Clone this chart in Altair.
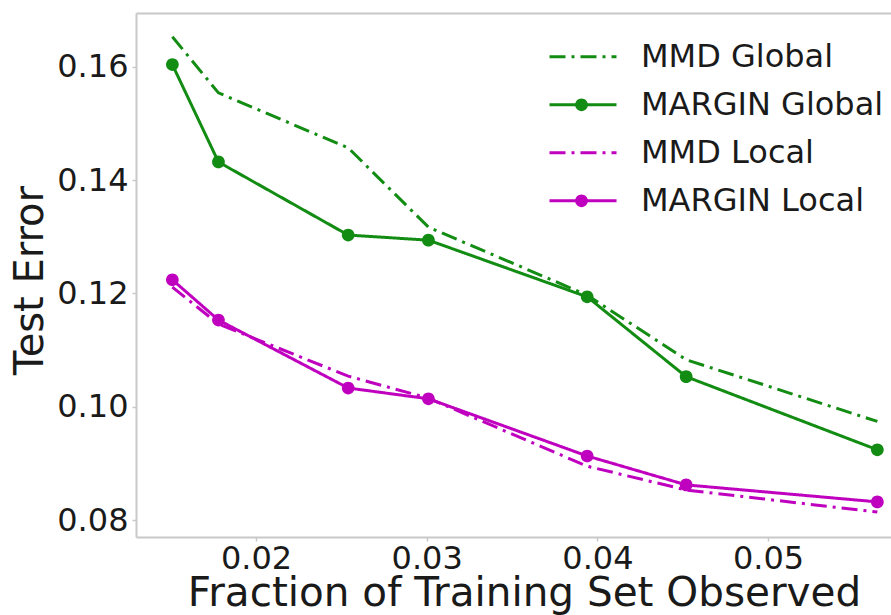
import altair as alt
import pandas as pd

# ---- data ----
fractions = [0.0151, 0.0178, 0.0254, 0.0301, 0.0394, 0.0452, 0.0564]
mmd_global = [0.1653, 0.1554, 0.1457, 0.1317, 0.1197, 0.1083, 0.0974]
margin_global = [0.1604, 0.1432, 0.1303, 0.1294, 0.1194, 0.1053, 0.0924]
mmd_local = [0.1211, 0.1146, 0.1054, 0.1015, 0.0895, 0.0853, 0.0814]
margin_local = [0.1224, 0.1153, 0.1033, 0.1014, 0.0913, 0.0862, 0.0832]

series_names = ["MMD Global", "MARGIN Global", "MMD Local", "MARGIN Local"]
series_values = [mmd_global, margin_global, mmd_local, margin_local]
x_ticks = [0.02, 0.03, 0.04, 0.05]
y_ticks = [0.08, 0.10, 0.12, 0.14, 0.16]

GREEN = "#138c13"
MAGENTA = "#bf00bf"
series_colors = [GREEN, GREEN, MAGENTA, MAGENTA]
DASHDOT = [16, 6, 3, 6]
SOLID = [1, 0]
CIRCLE = "M0.19,0A0.19,0.19,0,1,1,-0.19,0A0.19,0.19,0,1,1,0.19,0Z"
NOTHING = "M0,0"
series_dash = [DASHDOT, SOLID, DASHDOT, SOLID]
series_marker = [NOTHING, CIRCLE, NOTHING, CIRCLE]

rows = []
for k, (name, vals) in enumerate(zip(series_names, series_values)):
    for i, (fx, v) in enumerate(zip(fractions, vals)):
        rows.append({"series": name, "key": k, "fraction": fx, "error": v, "order": i})
df = pd.DataFrame(rows)

W, H = 755, 524
FONT = "DejaVu Sans"
TXT = "#1a1a1a"
FRAME = "#c8c8c8"
SYM = 4489  # legend symbol box: 67 px wide

xscale = alt.Scale(domain=[0.01297, 0.0572], nice=False, zero=False)
yscale = alt.Scale(domain=[0.0770, 0.1695], nice=False, zero=False)

x_axis = alt.Axis(
    values=x_ticks, format=".2f", title="Fraction of Training Set Observed",
    grid=False, domainColor=FRAME, domainWidth=2, tickColor=FRAME, tickSize=4,
    tickWidth=1.5, labelFont=FONT, labelFontSize=32, labelColor=TXT, labelPadding=2,
    titleFont=FONT, titleFontSize=40.5, titleFontWeight="normal", titleColor=TXT,
    titleX=388, titleY=68, titleBaseline="alphabetic", titleAlign="center",
)
x_top_axis = alt.Axis(
    orient="top", labels=False, ticks=False, title=None, grid=False,
    domainColor=FRAME, domainWidth=2,
)
y_axis = alt.Axis(
    values=y_ticks, format=".2f", title="Test Error",
    grid=False, domainColor=FRAME, domainWidth=2, tickColor=FRAME, tickSize=4,
    tickWidth=1.5, labelFont=FONT, labelFontSize=32, labelColor=TXT, labelPadding=4,
    titleFont=FONT, titleFontSize=40, titleFontWeight="normal", titleColor=TXT,
    titleX=-94, titleY=267, titleBaseline="alphabetic", titleAlign="center", titleAngle=270,
)

common_legend = dict(
    title=None, orient="none", legendX=412, legendY=20, padding=0,
    symbolSize=SYM, labelFont=FONT, labelFontSize=32, labelOffset=23,
    labelLimit=500, rowPadding=0, clipHeight=47.7,
)
line_legend = alt.Legend(
    symbolType="stroke", symbolStrokeWidth=3, labelColor=TXT, **common_legend
)
marker_legend = alt.Legend(
    symbolStrokeWidth=0, labelExpr="' '", symbolOpacity=1, **common_legend
)

lines = alt.Chart(df).mark_line(strokeWidth=3).encode(
    x=alt.X("fraction:Q", scale=xscale, axis=x_axis),
    y=alt.Y("error:Q", scale=yscale, axis=y_axis),
    color=alt.Color("series:N", scale=alt.Scale(domain=series_names, range=series_colors),
                    legend=line_legend),
    strokeDash=alt.StrokeDash("series:N", scale=alt.Scale(domain=series_names, range=series_dash),
                              legend=line_legend),
    order="order:Q",
)

points = alt.Chart(df).mark_point(filled=True, size=SYM, opacity=1, strokeWidth=0).encode(
    x=alt.X("fraction:Q", scale=xscale, axis=x_top_axis),
    y=alt.Y("error:Q", scale=yscale, axis=y_axis),
    fill=alt.Fill("key:N", scale=alt.Scale(range=series_colors), legend=marker_legend),
    shape=alt.Shape("key:N", scale=alt.Scale(range=series_marker), legend=marker_legend),
)

chart = alt.layer(lines, points).resolve_axis(x="independent").properties(
    width=W, height=H,
    autosize=alt.AutoSizeParams(type="none"),
    padding={"left": 136, "top": 13, "right": 0, "bottom": 78},
    background="white",
).configure_view(stroke=None)

chart.save("out.html", embed_options={"renderer": "svg", "actions": False})
